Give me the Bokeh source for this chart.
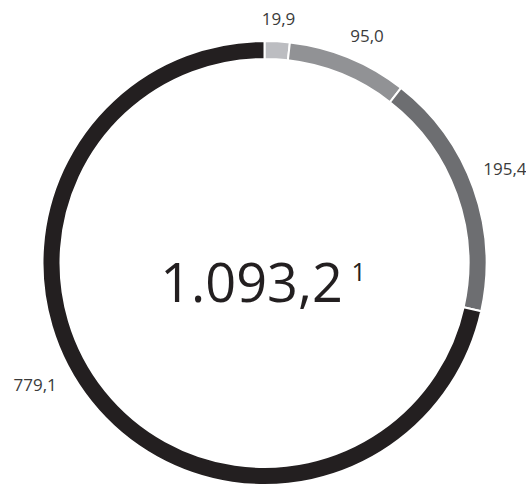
import math
from bokeh.plotting import figure
from bokeh.models import ColumnDataSource
from bokeh.core.properties import value
from bokeh.embed import file_html
from bokeh.resources import INLINE

# ---- data ----
values = [19.9, 95.0, 195.4, 779.1]
labels = ["19,9", "95,0", "195,4", "779,1"]
colors = ["#bcbdc1", "#919295", "#6d6e71", "#231f20"]
total_label = "1.093,2"
footnote = "1"

# ---- layout ----
W, H = 526, 486
cx, cy = 264, H - 262.5
r_out, r_in = 222, 204
label_angle_deg = [3.3, 24.3, 68.7, 241.9]   # clockwise from top
label_radius = [244, 249, 258, 260]

total = sum(values)
starts, ends = [], []
cum = 0.0
for v in values:
    starts.append(math.pi / 2 - cum / total * 2 * math.pi)
    cum += v
    ends.append(math.pi / 2 - cum / total * 2 * math.pi)

src = ColumnDataSource(dict(start=starts, end=ends, color=colors))

p = figure(width=W, height=H, x_range=(0, W), y_range=(0, H),
           output_backend="svg", toolbar_location=None, min_border=0)
p.axis.visible = False
p.grid.visible = False
p.outline_line_color = None
p.background_fill_color = "white"
p.border_fill_color = "white"

p.annular_wedge(x=cx, y=cy, inner_radius=r_in, outer_radius=r_out,
                start_angle="start", end_angle="end", direction="clock",
                fill_color="color", line_color="white", line_width=2,
                source=src)

lx = [cx + r * math.sin(math.radians(a)) for a, r in zip(label_angle_deg, label_radius)]
ly = [cy + r * math.cos(math.radians(a)) for a, r in zip(label_angle_deg, label_radius)]
p.text(x=lx, y=ly, text=labels, text_align="center", text_baseline="middle",
       text_font=value("Open Sans"), text_font_size="17px", text_color="#3b3b3b")

p.text(x=[cx - 13], y=[H - 282], text=[total_label], text_align="center",
       text_baseline="alphabetic", text_font=value("Open Sans"),
       text_font_size="54px", text_color="#231f20")
p.text(x=[cx + 87], y=[H - 271], text=[footnote], text_align="left",
       text_baseline="alphabetic", text_font=value("Open Sans"),
       text_font_size="25px", text_color="#231f20")

open("out.html", "w").write(file_html(p, INLINE))
